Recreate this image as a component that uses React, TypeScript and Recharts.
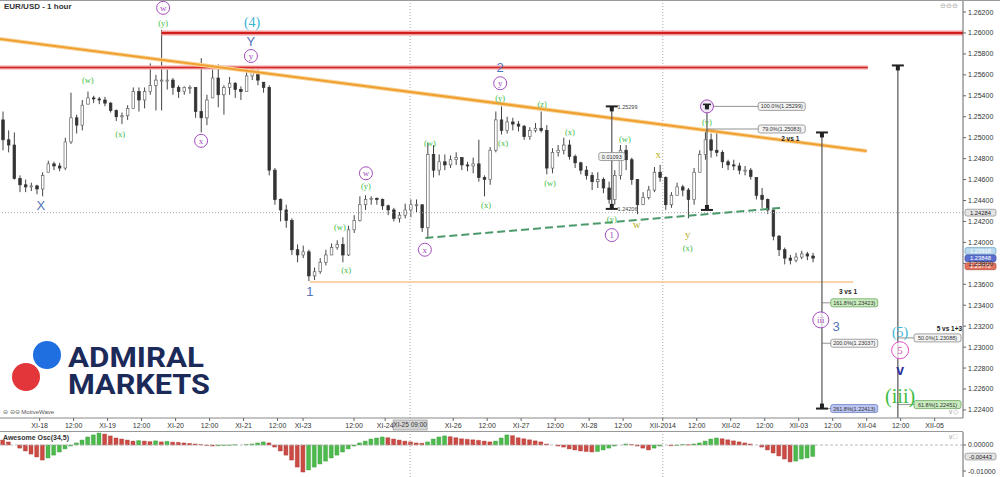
import React from 'react';
import { ComposedChart, Bar, Cell, XAxis, YAxis, ReferenceLine, ReferenceDot } from 'recharts';

const SANS = '"Liberation Sans", Arial, sans-serif';
const SERIF = '"Liberation Serif", "DejaVu Serif", serif';

// time runs in 4-hour slots (6 per trading day); the right part is empty future space
const SLOTS = 170;
const FIRST_OPEN = 1.2517;

const highs = [
  1.2525, 1.2507, 1.2505, 1.2464, 1.2460, 1.2457, 1.2455, 1.2467, 1.2478, 1.2477,
  1.2476, 1.2500, 1.2543, 1.2522, 1.2536, 1.2544, 1.2540, 1.2539, 1.2539, 1.2534,
  1.2527, 1.2524, 1.2531, 1.2548, 1.2548, 1.2548, 1.2571, 1.2560, 1.2603, 1.2565,
  1.2557, 1.2550, 1.2549, 1.2550, 1.2548, 1.2576, 1.2541, 1.2565, 1.2570, 1.2550,
  1.2558, 1.2553, 1.2549, 1.2563, 1.2567, 1.2565, 1.2553, 1.2550, 1.2471, 1.2442,
  1.2436, 1.2423, 1.2398, 1.2397, 1.2393, 1.2376, 1.2385, 1.2393, 1.2399, 1.2402,
  1.2405, 1.2416, 1.2426, 1.2444, 1.2445, 1.2444, 1.2443, 1.2442, 1.2436, 1.2433,
  1.2429, 1.2437, 1.2441, 1.2441, 1.2436, 1.2495, 1.2493, 1.2484, 1.2484, 1.2483,
  1.2486, 1.2481, 1.2477, 1.2481, 1.2498, 1.2464, 1.2491, 1.2525, 1.2530, 1.2520,
  1.2519, 1.2516, 1.2512, 1.2510, 1.2514, 1.2525, 1.2512, 1.2490, 1.2493, 1.2500,
  1.2498, 1.2484, 1.2477, 1.2473, 1.2467, 1.2467, 1.2462, 1.2458, 1.2469, 1.2493,
  1.2493, 1.2481, 1.2460, 1.2448, 1.2454, 1.2472, 1.2474, 1.2463, 1.2448, 1.2457,
  1.2455, 1.2452, 1.2471, 1.2488, 1.2508, 1.2504, 1.2505, 1.2488, 1.2479, 1.2479,
  1.2476, 1.2473, 1.2471, 1.2462, 1.2452, 1.2442, 1.2431, 1.2407, 1.2395, 1.2388,
  1.2390, 1.2392, 1.2391, 1.2390,
];

const lows = [
  1.2488, 1.2486, 1.2460, 1.2448, 1.2448, 1.2449, 1.2446, 1.2444, 1.2467, 1.2469,
  1.2468, 1.2469, 1.2494, 1.2504, 1.2507, 1.2532, 1.2533, 1.2532, 1.2530, 1.2524,
  1.2516, 1.2513, 1.2517, 1.2528, 1.2525, 1.2528, 1.2541, 1.2526, 1.2526, 1.2546,
  1.2541, 1.2538, 1.2541, 1.2542, 1.2519, 1.2505, 1.2512, 1.2538, 1.2529, 1.2522,
  1.2541, 1.2538, 1.2536, 1.2544, 1.2555, 1.2550, 1.2543, 1.2464, 1.2436, 1.2420,
  1.2414, 1.2388, 1.2381, 1.2385, 1.2363, 1.2364, 1.2370, 1.2378, 1.2388, 1.2393,
  1.2381, 1.2387, 1.2409, 1.2420, 1.2431, 1.2436, 1.2436, 1.2431, 1.2426, 1.2420,
  1.2419, 1.2423, 1.2424, 1.2429, 1.2410, 1.2404, 1.2462, 1.2464, 1.2469, 1.2471,
  1.2474, 1.2469, 1.2468, 1.2466, 1.2458, 1.2444, 1.2455, 1.2486, 1.2503, 1.2504,
  1.2507, 1.2506, 1.2498, 1.2498, 1.2505, 1.2505, 1.2465, 1.2466, 1.2482, 1.2484,
  1.2479, 1.2471, 1.2465, 1.2460, 1.2450, 1.2452, 1.2447, 1.2437, 1.2436, 1.2460,
  1.2469, 1.2455, 1.2427, 1.2436, 1.2441, 1.2448, 1.2458, 1.2431, 1.2433, 1.2445,
  1.2444, 1.2423, 1.2436, 1.2467, 1.2479, 1.2481, 1.2482, 1.2471, 1.2469, 1.2469,
  1.2465, 1.2464, 1.2460, 1.2441, 1.2433, 1.2427, 1.2402, 1.2387, 1.2379, 1.2379,
  1.2381, 1.2384, 1.2383, 1.2381,
];

const closes = [
  1.2498, 1.2493, 1.2461, 1.2455, 1.2453, 1.2454, 1.2451, 1.2464, 1.2475, 1.2473,
  1.2471, 1.2496, 1.2519, 1.2512, 1.2531, 1.2538, 1.2537, 1.2536, 1.2533, 1.2526,
  1.2520, 1.2521, 1.2528, 1.2544, 1.2536, 1.2544, 1.2550, 1.2555, 1.2555, 1.2555,
  1.2548, 1.2544, 1.2548, 1.2548, 1.2525, 1.2519, 1.2536, 1.2557, 1.2541, 1.2548,
  1.2552, 1.2546, 1.2544, 1.2559, 1.2563, 1.2555, 1.2548, 1.2469, 1.2441, 1.2431,
  1.2421, 1.2393, 1.2388, 1.2391, 1.2368, 1.2372, 1.2381, 1.2388, 1.2395, 1.2398,
  1.2388, 1.2412, 1.2421, 1.2436, 1.2441, 1.2442, 1.2441, 1.2435, 1.2431, 1.2423,
  1.2426, 1.2431, 1.2436, 1.2436, 1.2414, 1.2484, 1.2469, 1.2477, 1.2474, 1.2479,
  1.2481, 1.2474, 1.2473, 1.2475, 1.2462, 1.2460, 1.2488, 1.2517, 1.2507, 1.2515,
  1.2513, 1.2511, 1.2501, 1.2507, 1.2509, 1.2507, 1.2471, 1.2486, 1.2488, 1.2493,
  1.2482, 1.2476, 1.2469, 1.2464, 1.2458, 1.2460, 1.2452, 1.2441, 1.2464, 1.2488,
  1.2479, 1.2460, 1.2436, 1.2443, 1.2450, 1.2467, 1.2462, 1.2436, 1.2445, 1.2453,
  1.2450, 1.2441, 1.2467, 1.2484, 1.2498, 1.2488, 1.2486, 1.2477, 1.2474, 1.2473,
  1.2469, 1.2469, 1.2463, 1.2445, 1.2441, 1.2431, 1.2406, 1.2393, 1.2385, 1.2383,
  1.2386, 1.2389, 1.2387, 1.2385,
];

// Awesome Oscillator (34,5)
const awesome = [
  0.0019, 0.0012, 0.0000, -0.0012, -0.0023, -0.0035, -0.0046, -0.0058, -0.0050, -0.0039,
  -0.0027, -0.0015, -0.0004, 0.0008, 0.0019, 0.0031, 0.0039, 0.0046, 0.0042, 0.0035,
  0.0027, 0.0023, 0.0019, 0.0015, 0.0017, 0.0015, 0.0013, 0.0016, 0.0012, 0.0014,
  0.0011, 0.0010, 0.0008, 0.0006, 0.0004, 0.0002, -0.0002, -0.0004, -0.0003, -0.0002,
  -0.0001, 0.0001, 0.0000, 0.0002, 0.0004, 0.0008, 0.0012, 0.0008, -0.0008, -0.0023,
  -0.0039, -0.0058, -0.0085, -0.0104, -0.0096, -0.0085, -0.0073, -0.0062, -0.0050, -0.0039,
  -0.0027, -0.0015, -0.0004, 0.0008, 0.0015, 0.0023, 0.0027, 0.0031, 0.0028, 0.0023,
  0.0019, 0.0015, 0.0012, 0.0008, 0.0007, 0.0012, 0.0023, 0.0031, 0.0035, 0.0032,
  0.0028, 0.0024, 0.0022, 0.0020, 0.0018, 0.0015, 0.0012, 0.0015, 0.0027, 0.0039,
  0.0036, 0.0028, 0.0024, 0.0020, 0.0016, 0.0012, 0.0004, 0.0000, -0.0004, -0.0008,
  -0.0015, -0.0019, -0.0023, -0.0025, -0.0027, -0.0025, -0.0019, -0.0012, -0.0004, 0.0000,
  0.0004, 0.0002, -0.0004, -0.0012, -0.0019, -0.0012, -0.0004, 0.0000, -0.0003, -0.0002,
  0.0002, 0.0001, 0.0004, 0.0008, 0.0015, 0.0023, 0.0027, 0.0024, 0.0020, 0.0016,
  0.0012, 0.0008, 0.0004, 0.0000, -0.0008, -0.0019, -0.0031, -0.0042, -0.0054, -0.0065,
  -0.0062, -0.0054, -0.0050, -0.0044,
];

const timeTicks = [7, 13, 19, 25, 31, 37, 43, 49, 53.5, 62.5, 68, 80, 86, 92, 98, 104, 110, 117, 123, 129, 135, 141, 147, 153, 159, 165];
const timeLabels = ['XI-18', '12:00', 'XI-19', '12:00', 'XI-20', '12:00', 'XI-21', '12:00', 'XI-23', '12:00', 'XI-24', 'XI-26', '12:00', 'XI-27', '12:00', 'XI-28', '12:00', 'XII-2014', '12:00', 'XII-02', '12:00', 'XII-03', '12:00', 'XII-04', '12:00', 'XII-05'];

const priceTicks = [1.224, 1.226, 1.228, 1.23, 1.232, 1.234, 1.236, 1.238, 1.24, 1.242, 1.244, 1.246, 1.248, 1.25, 1.252, 1.254, 1.256, 1.258, 1.26, 1.262];
const oscTicks = [0, -0.01];

// wave counts: slot, price, text, kind
const waveMarks: [number, number, string, string][] = [
  [28.8, 1.2624, 'w', 'ring'],
  [28.8, 1.2610, '(y)', 'minor'],
  [44.5, 1.2610, '(4)', 'cyan'],
  [44.3, 1.2592, 'Y', 'major'],
  [44.3, 1.2578, 'y', 'ring'],
  [15.5, 1.2555, '(w)', 'minor'],
  [21.2, 1.2504, '(x)', 'minor'],
  [35.5, 1.2497, 'x', 'ring'],
  [7.2, 1.2435, 'X', 'major'],
  [64.6, 1.2466, 'w', 'ring'],
  [64.6, 1.2454, '(y)', 'minor'],
  [60, 1.2415, '(w)', 'minor'],
  [61.1, 1.2374, '(x)', 'minor'],
  [54.7, 1.2353, '1', 'major'],
  [75, 1.2393, 'x', 'ring'],
  [75.9, 1.2495, '(w)', 'minor'],
  [85.8, 1.2436, '(x)', 'minor'],
  [88.3, 1.2567, '2', 'major'],
  [88.3, 1.2552, 'y', 'ring'],
  [88.3, 1.2538, '(y)', 'minor'],
  [88.8, 1.2495, '(x)', 'minor'],
  [95.7, 1.2532, '(z)', 'minor'],
  [97.1, 1.2457, '(w)', 'minor'],
  [100.6, 1.2505, '(x)', 'minor'],
  [108, 1.2422, '(y)', 'minor'],
  [108, 1.2407, '1', 'ring'],
  [110.3, 1.2499, '(w)', 'minor'],
  [112.4, 1.2418, 'w', 'olive'],
  [116.2, 1.2484, 'x', 'olive'],
  [121.4, 1.2408, 'y', 'olive'],
  [121.4, 1.2395, '(x)', 'minor'],
  [124.8, 1.2515, '(v)', 'minor'],
  [144.9, 1.2326, 'iii', 'ring'],
  [147.6, 1.2320, '3', 'major'],
  [158.9, 1.2314, '(5)', 'cyan'],
  [158.9, 1.2297, '5', 'pink'],
  [158.9, 1.2278, 'v', 'navy'],
  [158.9, 1.2253, '(iii)', 'big'],
];

// measuring rulers: slot, top price, bottom price
const rulers: [number, number, number][] = [
  [108, 1.25299, 1.2432],
  [124.8, 1.25299, 1.2431],
  [145.1, 1.2505, 1.22413],
  [158.5, 1.2569, 1.22323],
];

// fibonacci boxes: ruler slot, box slot, price, text, kind
const fibBoxes: [number, number, number, string, string][] = [
  [124.8, 138, 1.25299, '100.0%(1.25299)', 'gray'],
  [124.8, 138, 1.25083, '79.0%(1.25083)', 'gray'],
  [145.1, 150.8, 1.23423, '161.8%(1.23423)', 'green'],
  [145.1, 150.8, 1.23037, '200.0%(1.23037)', 'gray'],
  [145.1, 150.8, 1.22413, '261.8%(1.22413)', 'blue'],
  [158.5, 165.5, 1.23088, '50.0%(1.23088)', 'gray'],
  [158.5, 165.5, 1.22451, '61.8%(1.22451)', 'green'],
];

const ratioNotes: [number, number, string][] = [
  [139.5, 1.2499, '2 vs 1'],
  [149.7, 1.2353, '3 vs 1'],
  [167.6, 1.2318, '5 vs 1+3'],
];

const lastPrices: [number, string][] = [
  [1.24284, 'cross'],
  [1.23918, 'light'],
  [1.23848, 'blue'],
  [1.23772, 'red'],
];

const rows = Array.from({ length: SLOTS }, (_, i) => {
  if (i >= closes.length) return { slot: i, t: i + 0.5 };
  const prev = i === 0 ? FIRST_OPEN : closes[i - 1];
  const o = Math.min(highs[i], Math.max(lows[i], prev));
  return { slot: i, t: i + 0.5, o, h: highs[i], l: lows[i], c: closes[i], ao: awesome[i] };
});

const waveStyles: Record<string, { fill: string; size: number; font: string; ring?: boolean; weight?: number }> = {
  minor: { fill: '#3fbd3f', size: 8.5, font: SERIF },
  ring: { fill: '#a34cbd', size: 9, font: SERIF, ring: true },
  pink: { fill: '#e04fc4', size: 11, font: SERIF, ring: true },
  cyan: { fill: '#3ab4d6', size: 14, font: SERIF },
  major: { fill: '#5275b8', size: 13, font: SANS },
  olive: { fill: '#b8b22c', size: 11, font: SERIF },
  navy: { fill: '#2c2f9c', size: 14, font: SANS, weight: 700 },
  big: { fill: '#3fbd3f', size: 20, font: SERIF },
};

const boxStyles: Record<string, { fill: string; stroke: string }> = {
  gray: { fill: '#f3f3f3', stroke: '#8a8a8a' },
  green: { fill: '#c9ecbf', stroke: '#6aa45c' },
  blue: { fill: '#bcc6f2', stroke: '#6f7fc4' },
};

const axisBoxes: Record<string, { fill: string; stroke: string; text: string }> = {
  cross: { fill: '#e4e4e4', stroke: '#888', text: '#222' },
  light: { fill: '#b9d9ee', stroke: '#6f9fc0', text: '#fff' },
  blue: { fill: '#5b6fd0', stroke: '#3e50a8', text: '#fff' },
  red: { fill: '#e2745f', stroke: '#b24a36', text: '#fff' },
};

function Candle(props: any) {
  const { x, y, width, height, payload } = props;
  if (!payload || payload.h == null) return null;
  const top = Math.min(y, y + height);
  const span = Math.abs(height);
  const k = span / Math.max(payload.h - payload.l, 1e-6);
  const cx = x + width / 2;
  const hiBody = Math.max(payload.o, payload.c);
  const loBody = Math.min(payload.o, payload.c);
  const by = top + (payload.h - hiBody) * k;
  const bh = Math.max(1, (hiBody - loBody) * k);
  const up = payload.c >= payload.o;
  return (
    <g>
      <line x1={cx} x2={cx} y1={top} y2={top + span} stroke="#444" strokeWidth={1} />
      <rect x={cx - 1.3} y={by} width={2.6} height={bh} fill={up ? '#fff' : '#333'} stroke={up ? '#666' : '#333'} strokeWidth={0.7} />
    </g>
  );
}

function WaveMark({ cx, cy, text, kind }: any) {
  const s = waveStyles[kind];
  const r = text.length > 1 ? 8 : kind === 'pink' ? 8.5 : 6.5;
  return (
    <g>
      {s.ring && <circle cx={cx} cy={cy} r={r} fill="#fff" fillOpacity={0.7} stroke={s.fill} strokeWidth={1} />}
      <text x={cx} y={cy} textAnchor="middle" dominantBaseline="central" fontSize={s.size} fontFamily={s.font} fontWeight={s.weight || 400} fill={s.fill}>
        {text}
      </text>
    </g>
  );
}

function FibBox({ cx, cy, text, kind }: any) {
  const s = boxStyles[kind];
  const w = 47;
  return (
    <g>
      <rect x={cx - w / 2} y={cy - 4} width={w} height={8} rx={2} fill={s.fill} stroke={s.stroke} strokeWidth={0.8} />
      <text x={cx} y={cy + 2} textAnchor="middle" fontSize={5.5} fontFamily={SANS} fill="#333">{text}</text>
    </g>
  );
}

function Cap({ cx, cy, down }: any) {
  return (
    <g>
      <line x1={cx - 6} x2={cx + 6} y1={cy} y2={cy} stroke="#222" strokeWidth={2} />
      <rect x={cx - 2} y={down ? cy - 5 : cy} width={4} height={5} fill="#222" />
    </g>
  );
}

function AxisBox({ cx, cy, text, kind }: any) {
  const s = axisBoxes[kind];
  return (
    <g>
      <rect x={cx + 2} y={cy - 3.4} width={31} height={6.8} rx={2} fill={s.fill} stroke={s.stroke} strokeWidth={0.7} />
      <text x={cx + 17.5} y={cy + 2} textAnchor="middle" fontSize={5.8} fontFamily={SANS} fill={s.text}>{text}</text>
    </g>
  );
}

const tickStyle = { fontSize: 7, fill: '#333', fontFamily: SANS };

function PriceChart() {
  return (
    <ComposedChart width={1000} height={432} data={rows} margin={{ top: 0, right: 0, bottom: 0, left: 0 }} barCategoryGap={0} barGap={0}>
      <XAxis xAxisId="t"
        dataKey="t"
        type="number"
        domain={[0, SLOTS]}
        allowDataOverflow
        ticks={timeTicks}
        interval={0}
        tickFormatter={(v: number) => timeLabels[timeTicks.indexOf(v)] || ''}
        height={14}
        tick={tickStyle}
        tickSize={3}
        axisLine={{ stroke: '#888' }}
        tickLine={{ stroke: '#666' }}
      />
      <XAxis xAxisId="c" dataKey="slot" type="category" hide height={0} />
      <YAxis
        orientation="right"
        domain={[1.22323, 1.26315]}
        allowDataOverflow
        ticks={priceTicks}
        interval={0}
        width={37}
        tickFormatter={(v: number) => v.toFixed(5)}
        tick={tickStyle}
        tickSize={3}
        axisLine={{ stroke: '#666' }}
        tickLine={{ stroke: '#666' }}
      />

      {/* crosshair and month divider */}
      <ReferenceLine xAxisId="t" y={1.24284} stroke="#aaa" strokeDasharray="1 2" />
      <ReferenceLine xAxisId="t" x={72.4} stroke="#aaa" strokeDasharray="1 2" />
      <ReferenceLine xAxisId="t" x={117} stroke="#aaa" strokeDasharray="1 2" />

      {/* resistance lines */}
      <ReferenceLine xAxisId="t" segment={[{ x: 28.5, y: 1.26 }, { x: SLOTS, y: 1.26 }]} stroke="#f19a9a" strokeWidth={5} />
      <ReferenceLine xAxisId="t" segment={[{ x: 28.5, y: 1.26 }, { x: SLOTS, y: 1.26 }]} stroke="#d21d1d" strokeWidth={2} />
      <ReferenceLine xAxisId="t" segment={[{ x: 0, y: 1.2567 }, { x: 153.2, y: 1.2567 }]} stroke="#f2a5a5" strokeWidth={4} />
      <ReferenceLine xAxisId="t" segment={[{ x: 0, y: 1.2567 }, { x: 153.2, y: 1.2567 }]} stroke="#d62828" strokeWidth={1.6} />
      <ReferenceLine xAxisId="t" segment={[{ x: 0, y: 1.25943 }, { x: 153, y: 1.24873 }]} stroke="#f8d49a" strokeWidth={4} />
      <ReferenceLine xAxisId="t" segment={[{ x: 0, y: 1.25943 }, { x: 153, y: 1.24873 }]} stroke="#f0a030" strokeWidth={2} />
      <ReferenceLine xAxisId="t" segment={[{ x: 54.7, y: 1.23622 }, { x: 150.6, y: 1.23622 }]} stroke="#f6c590" strokeWidth={1.6} />
      <ReferenceLine xAxisId="t" segment={[{ x: 75.1, y: 1.24042 }, { x: 137.7, y: 1.24329 }]} stroke="#4c9a6c" strokeWidth={2} strokeDasharray="8 4" />

      {/* measuring rulers */}
      {rulers.map(([s, top, bottom], i) => (
        <ReferenceLine key={`ru${i}`} xAxisId="t" segment={[{ x: s, y: top }, { x: s, y: bottom }]} stroke="#555" strokeWidth={1.2} />
      ))}
      {fibBoxes.map(([from, s, p], i) => (
        <ReferenceLine key={`fl${i}`} xAxisId="t" segment={[{ x: from, y: p }, { x: s - 4.1, y: p }]} stroke="#777" strokeWidth={0.8} />
      ))}

      <Bar xAxisId="c" dataKey={(d: any) => (d.h == null ? null : [d.l, d.h])} shape={Candle} isAnimationActive={false} />

      {rulers.map(([s, top], i) => (
        <ReferenceDot key={`ct${i}`} xAxisId="t" x={s} y={top} r={0} shape={(p: any) => (i === 1 ? <g /> : <Cap cx={p.cx} cy={p.cy} />)} />
      ))}
      {rulers.slice(0, 3).map(([s, , bottom], i) => (
        <ReferenceDot key={`cb${i}`} xAxisId="t" x={s} y={bottom} r={0} shape={(p: any) => <Cap cx={p.cx} cy={p.cy} down />} />
      ))}
      <ReferenceDot
        xAxisId="t"
        x={124.8}
        y={1.25299}
        r={0}
        shape={(p: any) => (
          <g>
            <circle cx={p.cx} cy={p.cy} r={6.5} fill="#f3e6f7" stroke="#a34cbd" strokeWidth={1} />
            <line x1={p.cx - 4} x2={p.cx + 4} y1={p.cy - 2} y2={p.cy - 2} stroke="#222" strokeWidth={1.6} />
            <rect x={p.cx - 2} y={p.cy - 2} width={4} height={5} fill="#222" />
          </g>
        )}
      />

      {fibBoxes.map(([, s, p, text, kind], i) => (
        <ReferenceDot key={`fb${i}`} xAxisId="t" x={s} y={p} r={0} shape={(q: any) => <FibBox cx={q.cx} cy={q.cy} text={text} kind={kind} />} />
      ))}
      {ratioNotes.map(([s, p, text], i) => (
        <ReferenceDot
          key={`rn${i}`}
          xAxisId="t"
          x={s}
          y={p}
          r={0}
          shape={(q: any) => (
            <text x={q.cx} y={q.cy} textAnchor="middle" dominantBaseline="central" fontSize={6.5} fontWeight={700} fontFamily={SANS} fill="#222">
              {text}
            </text>
          )}
        />
      ))}

      {/* ruler on the 1 vs 2 swing */}
      <ReferenceDot xAxisId="t" x={108.5} y={1.2529} r={0} shape={(q: any) => <text x={q.cx + 3} y={q.cy + 2} fontSize={5.5} fontFamily={SANS} fill="#444">1.25299</text>} />
      <ReferenceDot
        xAxisId="t"
        x={108}
        y={1.2482}
        r={0}
        shape={(q: any) => (
          <g>
            <rect x={q.cx - 13} y={q.cy - 4} width={26} height={8} rx={2} fill="#f3f3f3" stroke="#8a8a8a" strokeWidth={0.8} />
            <text x={q.cx} y={q.cy + 2} textAnchor="middle" fontSize={5.5} fontFamily={SANS} fill="#333">0.01093</text>
          </g>
        )}
      />
      <ReferenceDot xAxisId="t" x={108.5} y={1.2432} r={0} shape={(q: any) => <text x={q.cx + 3} y={q.cy + 2} fontSize={5.5} fontFamily={SANS} fill="#444">1.24206</text>} />

      {waveMarks.map(([s, p, text, kind], i) => (
        <ReferenceDot key={`wm${i}`} xAxisId="t" x={s} y={p} r={0} shape={(q: any) => <WaveMark cx={q.cx} cy={q.cy} text={text} kind={kind} />} />
      ))}

      {lastPrices.map(([p, kind], i) => (
        <ReferenceDot key={`lp${i}`} xAxisId="t" x={SLOTS} y={p} r={0} shape={(q: any) => <AxisBox cx={q.cx} cy={q.cy} text={p.toFixed(5)} kind={kind} />} />
      ))}
      <ReferenceDot
        xAxisId="t"
        x={72.4}
        y={1.22323}
        r={0}
        shape={(q: any) => (
          <g>
            <rect x={q.cx - 17} y={q.cy + 2} width={34} height={10} fill="#d4d4d4" stroke="#999" strokeWidth={0.7} />
            <text x={q.cx} y={q.cy + 9.3} textAnchor="middle" fontSize={6.5} fontFamily={SANS} fill="#333">XI-25 09:00</text>
          </g>
        )}
      />
    </ComposedChart>
  );
}

function OscChart() {
  return (
    <ComposedChart width={1000} height={45} data={rows} margin={{ top: 0, right: 0, bottom: 0, left: 0 }} barCategoryGap="12%">
      <XAxis xAxisId="t" dataKey="t" type="number" domain={[0, SLOTS]} allowDataOverflow hide height={0} />
      <XAxis xAxisId="c" dataKey="slot" type="category" hide height={0} />
      <YAxis
        orientation="right"
        domain={[-0.0123, 0.005]}
        allowDataOverflow
        ticks={oscTicks}
        interval={0}
        width={37}
        tickFormatter={(v: number) => v.toFixed(5)}
        tick={tickStyle}
        tickSize={3}
        axisLine={{ stroke: '#666' }}
        tickLine={{ stroke: '#666' }}
      />
      <ReferenceLine xAxisId="t" y={0} stroke="#bbb" strokeDasharray="3 2" />
      <ReferenceLine xAxisId="t" x={72.4} stroke="#aaa" strokeDasharray="1 2" />
      <ReferenceLine xAxisId="t" x={117} stroke="#aaa" strokeDasharray="1 2" />
      <Bar xAxisId="c" dataKey="ao" isAnimationActive={false}>
        {rows.map((r: any, i) => (
          <Cell key={i} fill={i > 0 && r.ao >= awesome[i - 1] ? '#4dba4d' : '#cc4a44'} stroke={i > 0 && r.ao >= awesome[i - 1] ? '#3a9a3a' : '#a83a34'} strokeWidth={0.4} />
        ))}
      </Bar>
      <ReferenceDot xAxisId="t" x={SLOTS} y={-0.00443} r={0} shape={(q: any) => <AxisBox cx={q.cx} cy={q.cy} text="-0.00443" kind="cross" />} />
    </ComposedChart>
  );
}

function Logo() {
  return (
    <svg width={230} height={70} style={{ position: 'absolute', left: 0, top: 334 }}>
      <circle cx={47} cy={21} r={14} fill="#1f6fe0" />
      <circle cx={26} cy={43} r={14} fill="#e2363a" />
      <text x={68} y={33} fontSize={27} fontWeight={700} fontFamily='Roboto, "Liberation Sans", sans-serif' fill="#1b2a58" textLength={136} lengthAdjust="spacingAndGlyphs">ADMIRAL</text>
      <text x={68} y={60} fontSize={27} fontWeight={700} fontFamily='Roboto, "Liberation Sans", sans-serif' fill="#1b2a58" textLength={142} lengthAdjust="spacingAndGlyphs">MARKETS</text>
    </svg>
  );
}

export default function App() {
  return (
    <div style={{ position: 'absolute', left: 0, top: 0, width: 1000, height: 477, background: '#fff', overflow: 'hidden', fontFamily: SANS }}>
      <div style={{ position: 'absolute', left: 0, top: 0 }}>
        <PriceChart />
      </div>
      <div style={{ position: 'absolute', left: 0, top: 432 }}>
        <OscChart />
      </div>
      <div style={{ position: 'absolute', left: 0, top: 0, width: 1000, height: 1, background: '#999' }} />
      <div style={{ position: 'absolute', left: 0, top: 431, width: 963, height: 1, background: '#999' }} />
      <div style={{ position: 'absolute', left: 4, top: 2, fontSize: 8, fontWeight: 700, color: '#333' }}>EUR/USD - 1 hour</div>
      <div style={{ position: 'absolute', left: 3, top: 408, fontSize: 6, color: '#555' }}>⊝ ⊝⊝ MotiveWave</div>
      <div style={{ position: 'absolute', left: 3, top: 434, fontSize: 7, fontWeight: 700, color: '#333' }}>Awesome Osc(34,5)</div>
      <div style={{ position: 'absolute', left: 940, top: 2, fontSize: 7, color: '#aaa' }}>⊖⊖⊖</div>
      <div style={{ position: 'absolute', left: 948, top: 408, fontSize: 7, color: '#aaa' }}>∨◇</div>
      <div style={{ position: 'absolute', left: 948, top: 433, fontSize: 7, color: '#aaa' }}>∨□</div>
      <Logo />
    </div>
  );
}
